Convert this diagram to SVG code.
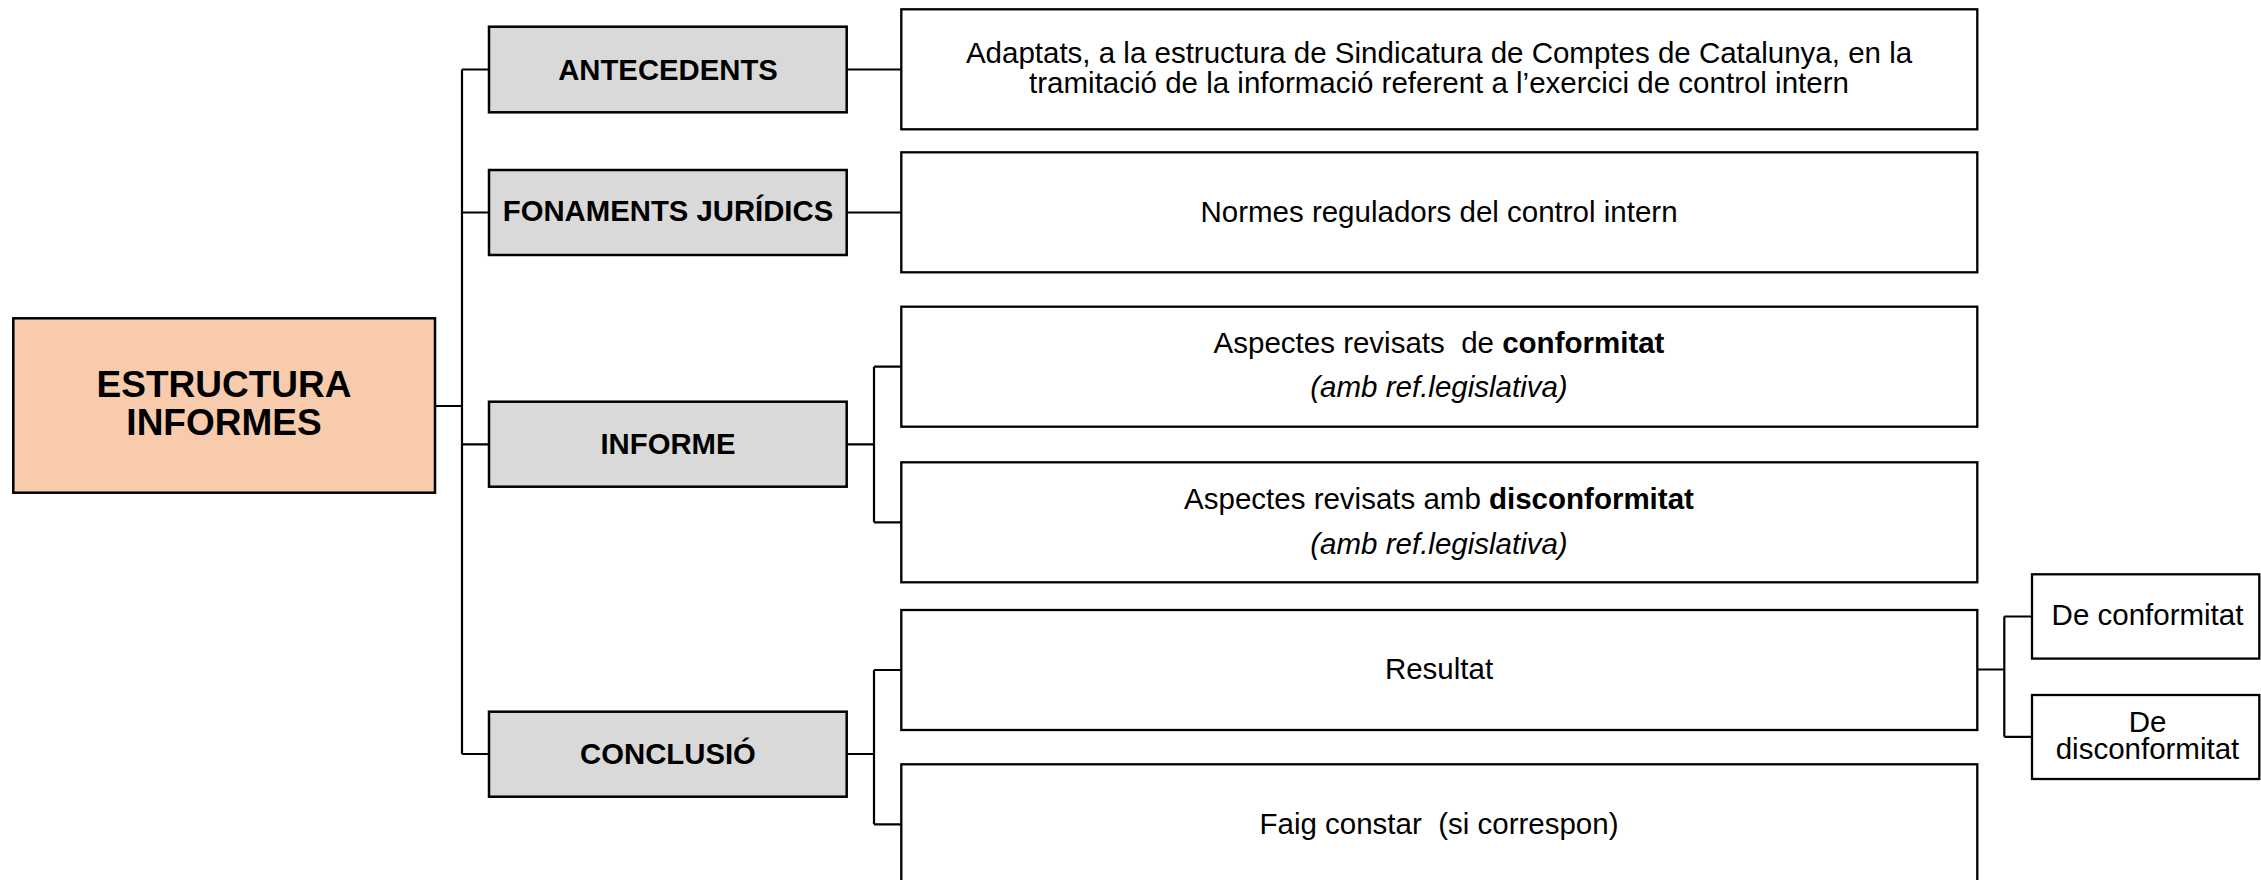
<svg xmlns="http://www.w3.org/2000/svg" width="2261" height="880" viewBox="0 0 2261 880">
<style>
text{font-family:"Liberation Sans",Arial,sans-serif;fill:#000}
.root{fill:#F8CBAD;stroke:#000;stroke-width:2.5}
.sec{fill:#D9D9D9;stroke:#000;stroke-width:2.5}
.box{fill:#fff;stroke:#000;stroke-width:2.3}
.conn{fill:none;stroke:#000;stroke-width:2.2}
.t-root{font-size:37px;font-weight:bold;text-anchor:middle}
.t-sec{font-size:29.3px;font-weight:bold;text-anchor:middle}
.t-box{font-size:29.5px;text-anchor:middle}
.t-l{font-size:29.5px;text-anchor:start}
.b{font-weight:bold}
.i{font-style:italic}
</style>
<rect width="2261" height="880" fill="#fff"/>
<g id="connectors">
<path class="conn" d="M435 406H462M462 69.5V754M462 69.5H489M462 212.5H489M462 444.3H489M462 754H489"/>
<path class="conn" d="M847 69.5H901M847 212.5H901"/>
<path class="conn" d="M847 444.3H874M874 366.7V522.3M874 366.7H901M874 522.3H901"/>
<path class="conn" d="M847 754H874M874 670V824.3M874 670H901M874 824.3H901"/>
<path class="conn" d="M1977 669.5H2004.3M2004.3 616.5V736.8M2004.3 616.5H2032M2004.3 736.8H2032"/>
</g>
<g id="n-root">
<rect class="root" x="13.3" y="318.3" width="421.7" height="174.4"/>
<text class="t-root" x="224" y="396.7">ESTRUCTURA</text>
<text class="t-root" x="224" y="435">INFORMES</text>
</g>
<g id="n-antecedents">
<rect class="sec" x="489" y="26.7" width="357.7" height="85.6"/>
<text class="t-sec" x="668" y="79.5">ANTECEDENTS</text>
</g>
<g id="n-fonaments">
<rect class="sec" x="489" y="170" width="357.7" height="85"/>
<text class="t-sec" x="668" y="221">FONAMENTS JURÍDICS</text>
</g>
<g id="n-informe">
<rect class="sec" x="489" y="401.7" width="357.7" height="85"/>
<text class="t-sec" x="668" y="454">INFORME</text>
</g>
<g id="n-conclusio">
<rect class="sec" x="489" y="711.7" width="357.7" height="85"/>
<text class="t-sec" x="668" y="764">CONCLUSIÓ</text>
</g>
<g id="n-adaptats">
<rect class="box" x="901.3" y="9.3" width="1076" height="120"/>
<text class="t-box" x="1439" y="62.7">Adaptats, a la estructura de Sindicatura de Comptes de Catalunya, en la</text>
<text class="t-box" x="1439" y="92.7">tramitació de la informació referent a l’exercici de control intern</text>
</g>
<g id="n-normes">
<rect class="box" x="901.3" y="152.3" width="1076" height="120"/>
<text class="t-box" x="1439" y="221.5">Normes reguladors del control intern</text>
</g>
<g id="n-conformitat">
<rect class="box" x="901.3" y="306.7" width="1076" height="120"/>
<text class="t-l" x="1213.6" y="353.3" xml:space="preserve">Aspectes revisats  de</text>
<text class="t-l b" x="1502.2" y="353.3">conformitat</text>
<text class="t-box i" x="1439" y="397">(amb ref.legislativa)</text>
</g>
<g id="n-disconformitat">
<rect class="box" x="901.3" y="462.3" width="1076" height="120"/>
<text class="t-l" x="1184.1" y="508.5">Aspectes revisats amb</text>
<text class="t-l b" x="1489" y="508.5">disconformitat</text>
<text class="t-box i" x="1439" y="554">(amb ref.legislativa)</text>
</g>
<g id="n-resultat">
<rect class="box" x="901.3" y="610" width="1076" height="120"/>
<text class="t-box" x="1439" y="679.3">Resultat</text>
</g>
<g id="n-faig">
<rect class="box" x="901.3" y="764.3" width="1076" height="125"/>
<text class="t-box" x="1439" y="834" xml:space="preserve">Faig constar  (si correspon)</text>
</g>
<g id="n-de-conformitat">
<rect class="box" x="2032" y="574.3" width="227.3" height="84.3"/>
<text class="t-box" x="2147.5" y="625">De conformitat</text>
</g>
<g id="n-de-disconformitat">
<rect class="box" x="2032" y="695" width="227.3" height="84"/>
<text class="t-box" x="2147.5" y="731.7">De</text>
<text class="t-box" x="2147.5" y="759.3">disconformitat</text>
</g>
</svg>
